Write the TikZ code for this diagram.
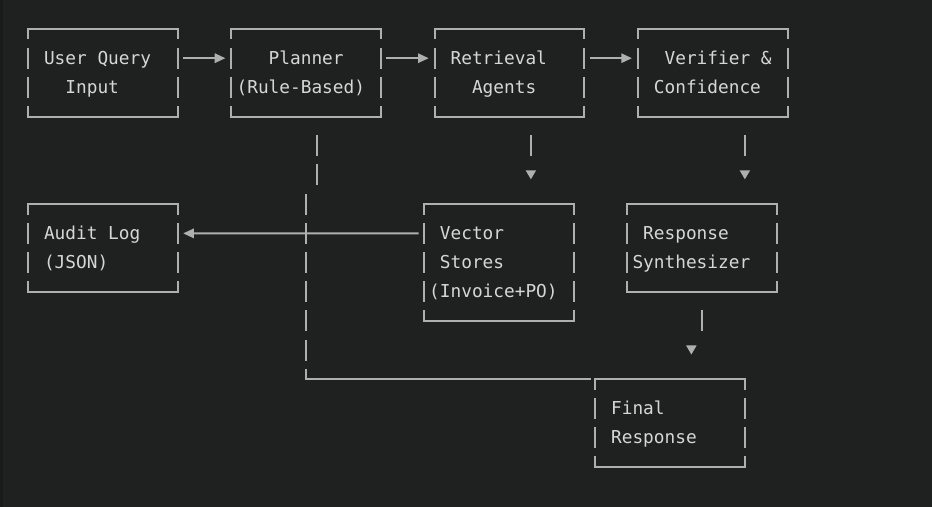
\documentclass[tikz,border=0pt]{standalone}
\usepackage{fontspec}
\usepackage{tikz}
\usetikzlibrary{positioning,calc,arrows.meta}
\newfontfamily\asciifont{DejaVu Sans Mono}
\definecolor{panel}{HTML}{1F2121}
\definecolor{panelrim}{HTML}{191A1A}
\definecolor{linegray}{HTML}{AFAFAF}
\definecolor{textgray}{HTML}{D6D6D6}
\newcommand{\asciiline}[1]{\strut#1\strut}

\tikzset{
  asciibox/.style={font=\asciifont\fontsize{13.33pt}{21.9pt}\selectfont, text=textgray,
    align=left, inner sep=0pt, outer sep=0pt, minimum width=112.35pt, minimum height=65.7pt},
  edge/.style={draw=linegray, line width=1.4pt, line cap=rect},
  bars/.style={draw=linegray, line width=1.4pt, dash pattern=on 15.75pt off 6.15pt, dash phase=7.875pt},
  vbars/.style={draw=linegray, line width=1.4pt, dash pattern=on 15.75pt off 6.15pt, dash phase=18.825pt},
  flow/.style={draw=linegray, line width=1.4pt, -{Triangle[length=8pt, width=7pt]}},
  drop/.style={draw=linegray, line width=1.4pt, dash pattern=on 0pt off 3.075pt on 15.75pt off 40pt,
    -{Triangle[length=6.8pt, width=7.5pt]}}
}

\begin{document}
\begin{tikzpicture}[x=8.025pt, y=-21.9pt]

  % Panel
  \fill[panel] (-2.617, -0.993) rectangle (84.49, 16.37);
  \fill[panelrim] (-2.617, -0.993) rectangle (-2.337, 16.37);

  % Boxes (one unit = one character cell)
  \node[asciibox] (query) at (7, 1.5) {\asciiline{~User~Query~~}\\\asciiline{~~~Input~~~~~}};
  \node[asciibox] (planner) at (26, 1.5) {\asciiline{~~~Planner~~~}\\\asciiline{(Rule-Based)~}};
  \node[asciibox] (retr) at (45, 1.5) {\asciiline{~Retrieval~~~}\\\asciiline{~~~Agents~~~~}};
  \node[asciibox] (verif) at (64, 1.5) {\asciiline{~~Verifier~\&~}\\\asciiline{~Confidence~~}};
  \node[asciibox] (audit) at (7, 7.5) {\asciiline{~Audit~Log~~~}\\\asciiline{~(JSON)~~~~~~}};
  \node[asciibox, minimum height=87.6pt] (vstore) at (44, 8)
    {\asciiline{~Vector~~~~~~}\\\asciiline{~Stores~~~~~~}\\\asciiline{(Invoice+PO)~}};
  \node[asciibox] (synth) at (63, 7.5) {\asciiline{~Response~~~~}\\\asciiline{Synthesizer~~}};
  \node[asciibox] (final) at (60, 13.5) {\asciiline{~Final~~~~~~~}\\\asciiline{~Response~~~~}};

  % Borders
  \foreach \b in {query,planner,retr,verif,audit,vstore,synth,final}{
    \draw[edge] (\b.north west) -- (\b.north east) (\b.south west) -- (\b.south east);
    \draw[bars] (\b.north west) -- (\b.south west) (\b.north east) -- (\b.south east);
  }

  % Arrows
  \draw[flow] ($(query.north east)+(0.5,1)$) -- ($(planner.north west)+(-0.55,1)$);
  \draw[flow] ($(planner.north east)+(0.5,1)$) -- ($(retr.north west)+(-0.55,1)$);
  \draw[flow] ($(retr.north east)+(0.5,1)$) -- ($(verif.north west)+(-0.55,1)$);
  \draw[drop] ($(retr.south)+(2,0.5)$) -- ($(vstore.north)+(3,-0.85)$);
  \draw[drop] ($(verif.south)+(3,0.5)$) -- ($(synth.north)+(4,-0.85)$);
  \draw[drop] ($(synth.south)+(0,0.5)$) -- ++(0,1) -| ($(final.north)+(2,-0.85)$);
  \draw[flow] ($(vstore.north west)+(-0.5,1)$) -- ($(audit.north east)+(0.5,1)$);

  % Planner down to final response
  \draw[vbars] ($(planner.south)+(1,0.5)$) -- ++(0,2);
  \draw[vbars] ($(planner.south)+(0,2.5)$) -- (planner.south |- final.north west);
  \draw[edge] (planner.south |- final.north west) -- ($(final.north west)+(-0.5,0)$);

\end{tikzpicture}
\end{document}
